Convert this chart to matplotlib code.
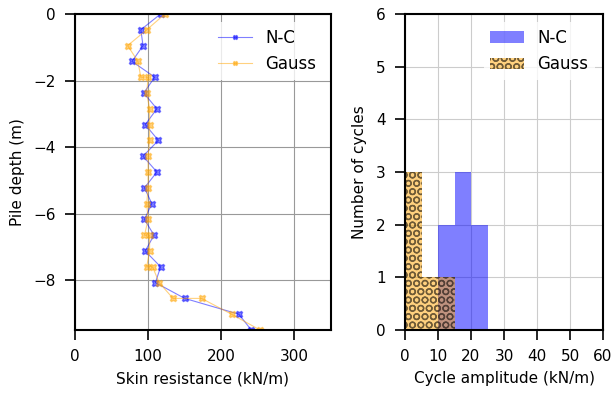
import matplotlib
matplotlib.use("Agg")
import matplotlib.pyplot as plt

# left panel: skin resistance profiles
depth_nc = [0.0, -0.475, -0.95, -1.425, -1.9, -2.375, -2.85, -3.325, -3.8, -4.275, -4.75,
            -5.225, -5.7, -6.175, -6.65, -7.125, -7.6, -8.075, -8.55, -9.025, -9.5]
skin_nc = [117, 90, 93, 78, 109, 94, 112, 96, 114, 93, 112,
           95, 105, 95, 108, 96, 117, 110, 150, 224, 241]

depth_gauss = [0.0, -0.475, -0.95, -1.425, -1.9, -1.9, -2.375, -2.85, -3.325, -3.8, -4.275, -4.75,
               -5.225, -5.7, -6.175, -6.65, -6.65, -7.125, -7.6, -7.6, -8.075, -8.55, -8.55,
               -9.025, -9.5]
skin_gauss = [123, 98, 72, 86, 90, 100, 98, 102, 102, 102, 100, 100,
              100, 98, 100, 95, 102, 102, 98, 106, 115, 134, 173,
              214, 253]

# right panel: cycle amplitude histograms (bin left edges, width 5)
bins_nc = [10, 15, 20]
counts_nc = [2, 3, 2]
bins_gauss = [0, 5, 10]
counts_gauss = [3, 1, 1]
bin_w = 5

plt.rcParams['font.size'] = 11
plt.rcParams['hatch.linewidth'] = 1.0

fig = plt.figure(figsize=(6.14, 3.96), dpi=100)
ax1 = fig.add_axes([75/614, 66/396, 256/614, 316/396])
ax2 = fig.add_axes([405/614, 66/396, 198/614, 316/396])

ax1.plot(skin_nc, depth_nc, color='blue', alpha=0.5, marker='X', markersize=5, linewidth=0.8, label='N-C')
ax1.plot(skin_gauss, depth_gauss, color='orange', alpha=0.5, marker='X', markersize=5, linewidth=0.8, label='Gauss')
ax1.set_xlim(0, 350)
ax1.set_ylim(-9.5, 0)
ax1.set_xticks([0, 100, 200, 300])
ax1.set_yticks([0, -2, -4, -6, -8])
ax1.grid(True, color='0.6', linewidth=0.8)
ax1.set_xlabel("Skin resistance (kN/m)", labelpad=5)
ax1.set_ylabel("Pile depth (m)", labelpad=6)
ax1.legend(loc='upper right', fontsize=12, edgecolor='none', markerscale=0.6)

ax2.bar(bins_nc, counts_nc, width=bin_w, align='edge', color='blue', alpha=0.5, linewidth=0, label='N-C')
ax2.bar(bins_gauss, counts_gauss, width=bin_w, align='edge', color='orange', alpha=0.5,
        hatch='OO', edgecolor='black', linewidth=0, label='Gauss')
ax2.set_xlim(0, 60)
ax2.set_ylim(0, 6)
ax2.set_xticks(range(0, 61, 10))
ax2.set_yticks(range(0, 7))
ax2.grid(True, color='0.8', linewidth=0.8)
ax2.set_axisbelow(True)
ax2.set_xlabel("Cycle amplitude (kN/m)", labelpad=5)
ax2.set_ylabel("Number of cycles", labelpad=6)
ax2.legend(loc='upper right', fontsize=12, edgecolor='none')

for ax in (ax1, ax2):
    for s in ax.spines.values():
        s.set_linewidth(1.5)
    ax.tick_params(length=7, width=1.2, pad=7)

fig.savefig("out.png", dpi=100)
